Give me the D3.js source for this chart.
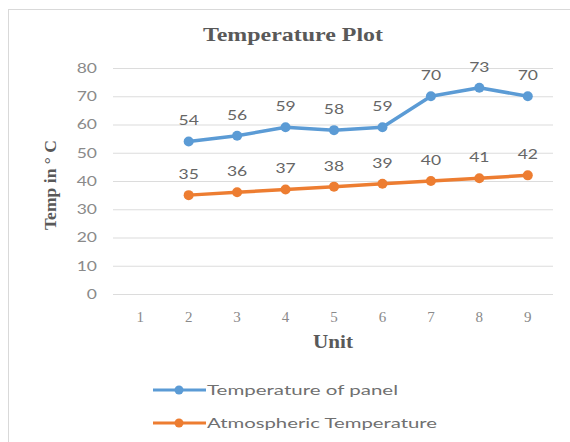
<!DOCTYPE html>
<html>
<head>
<meta charset="utf-8">
<script src="https://cdn.jsdelivr.net/npm/d3@7"></script>
<style>
  html, body { margin: 0; padding: 0; background: #fff; }
  svg { display: block; }
</style>
</head>
<body>
<svg id="chart" width="570" height="442"></svg>
<script>
// Unit numbers along the x axis
const units = [1, 2, 3, 4, 5, 6, 7, 8, 9];
// Panel and ambient temperatures (°C); unit 1 has no reading
const panelTemp = [null, 54, 56, 59, 58, 59, 70, 73, 70];
const atmosTemp = [null, 35, 36, 37, 38, 39, 40, 41, 42];
const yTicks = [0, 10, 20, 30, 40, 50, 60, 70, 80];
const seriesNames = ["Temperature of panel", "Atmospheric Temperature"];
const seriesColors = ["#5B9BD5", "#ED7D31"];

const SANS = "Lato, 'Open Sans', sans-serif";
const SERIF = "'Liberation Serif', 'Times New Roman', serif";
const WIDE = 1.25; // horizontal stretch for the sans labels

const svg = d3.select("#chart");

// chart-area frame
svg.append("rect")
  .attr("x", 8.5).attr("y", 9.5)
  .attr("width", 600).attr("height", 460)
  .attr("fill", "#fff")
  .attr("stroke", "#d9d9d9").attr("stroke-width", 1);

const x = d3.scaleBand().domain(units).range([116, 552]);
const y = d3.scaleLinear().domain([0, 80]).range([294, 68]);

// gridlines
svg.append("g")
  .selectAll("line")
  .data(yTicks)
  .join("line")
  .attr("x1", 113).attr("x2", 553)
  .attr("y1", d => y(d) + 0.5).attr("y2", d => y(d) + 0.5)
  .attr("stroke", "#dcdcdc").attr("stroke-width", 1.2);

// y axis labels
const yAxis = d3.axisLeft(y).tickValues(yTicks).tickSize(0).tickPadding(0);
const yg = svg.append("g").attr("transform", "translate(97,0)").call(yAxis);
yg.select(".domain").remove();
yg.selectAll("text")
  .attr("font-family", SANS)
  .attr("font-size", 14).attr("fill", "#8a8a8a")
  .attr("transform", `scale(${WIDE},1)`);

// x axis labels
const xAxis = d3.axisBottom(x).tickSize(0).tickPadding(0);
const xg = svg.append("g").attr("transform", "translate(0,311)").call(xAxis);
xg.select(".domain").remove();
xg.selectAll("text")
  .attr("font-family", SERIF)
  .attr("font-size", 15).attr("fill", "#8a8a8a");

// titles
svg.append("text")
  .attr("x", 203).attr("y", 41)
  .attr("textLength", 180).attr("lengthAdjust", "spacingAndGlyphs")
  .attr("font-family", SERIF)
  .attr("font-weight", "bold").attr("font-size", 19).attr("fill", "#595959")
  .text("Temperature Plot");

svg.append("text")
  .attr("x", 313).attr("y", 348)
  .attr("textLength", 40).attr("lengthAdjust", "spacingAndGlyphs")
  .attr("font-family", SERIF)
  .attr("font-weight", "bold").attr("font-size", 18).attr("fill", "#595959")
  .text("Unit");

svg.append("text")
  .attr("transform", "translate(56,230) rotate(-90)")
  .attr("textLength", 90).attr("lengthAdjust", "spacingAndGlyphs")
  .attr("font-family", SERIF)
  .attr("font-weight", "bold").attr("font-size", 16).attr("fill", "#595959")
  .text("Temp in ° C");

// series
const series = [panelTemp, atmosTemp];
const cx = d => x(d.u) + x.bandwidth() / 2;
series.forEach((vals, i) => {
  const pts = units.map((u, j) => ({ u, v: vals[j] })).filter(d => d.v !== null);
  const line = d3.line().x(cx).y(d => y(d.v));
  svg.append("path")
    .datum(pts)
    .attr("d", line)
    .attr("fill", "none")
    .attr("stroke", seriesColors[i])
    .attr("stroke-width", 3.5)
    .attr("stroke-linejoin", "round");
  svg.append("g").selectAll("circle")
    .data(pts).join("circle")
    .attr("cx", cx).attr("cy", d => y(d.v))
    .attr("r", 5).attr("fill", seriesColors[i]);
  svg.append("g").selectAll("text")
    .data(pts).join("text")
    .attr("transform", d => `translate(${cx(d)},${y(d.v) - 16}) scale(${WIDE},1)`)
    .attr("text-anchor", "middle")
    .attr("font-family", SANS)
    .attr("font-size", 14).attr("fill", "#666666")
    .text(d => d.v);
});

// legend
const legend = svg.append("g");
const legendWidths = [191, 230];
seriesNames.forEach((name, i) => {
  const ly = 390 + i * 33;
  legend.append("line")
    .attr("x1", 153).attr("x2", 206)
    .attr("y1", ly).attr("y2", ly)
    .attr("stroke", seriesColors[i]).attr("stroke-width", 3);
  legend.append("circle")
    .attr("cx", 179).attr("cy", ly).attr("r", 4.5)
    .attr("fill", seriesColors[i]);
  legend.append("text")
    .attr("x", 207).attr("y", ly)
    .attr("dy", "0.36em")
    .attr("textLength", legendWidths[i]).attr("lengthAdjust", "spacingAndGlyphs")
    .attr("font-family", SANS)
    .attr("font-size", 14).attr("fill", "#707070")
    .text(name);
});
</script>
</body>
</html>
